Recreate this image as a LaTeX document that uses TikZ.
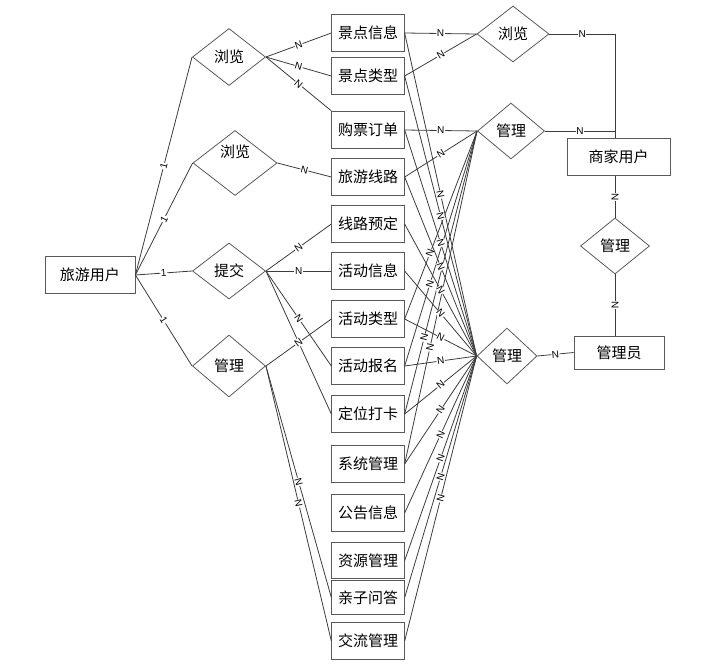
\documentclass[tikz,border=0pt]{standalone}
\usepackage{fontspec}
\newfontfamily\cjk{Noto Sans CJK SC}
\newfontfamily\latinsf{Liberation Sans}
\usepackage{tikz}
\usetikzlibrary{shapes.geometric}
\definecolor{erLine}{RGB}{60,60,60}
\definecolor{erEdge}{RGB}{90,90,90}

\begin{document}
\begin{tikzpicture}[x=0.75pt, y=-0.75pt, line width=0.6pt,
  ent/.style={draw=erEdge, rectangle, inner sep=0pt,
    minimum width=54.4pt, minimum height=28.1pt,
    font=\cjk\fontsize{11.25}{12}\selectfont},
  rel/.style={draw=erEdge, diamond, aspect=1, inner sep=0pt,
    font=\cjk\fontsize{11.25}{12}\selectfont},
  card/.style={font=\latinsf\fontsize{7.5}{7.5}\selectfont, sloped,
    fill=white, inner sep=0.4pt},
  link/.style={draw=erLine}]

\useasboundingbox (0,0) rectangle (725,665);

% Users
\node[ent, minimum width=67.5pt] (tourist) at (90,275) {旅游用户};
\node[ent, minimum width=77.3pt] (merchant) at (618.5,157) {商家用户};
\node[ent, minimum width=67.5pt, minimum height=24.8pt] (admin) at (619,352.5) {管理员};

% Entity column
\foreach \nm/\y/\h/\txt in {spotInfo/33/28.1pt/景点信息, spotType/76/28.1pt/景点类型,
    ticket/130/28.1pt/购票订单, route/177/28.1pt/旅游线路, routeBook/224/28.1pt/线路预定,
    actInfo/271/28.1pt/活动信息, actType/319/28.1pt/活动类型, actSign/366/28.1pt/活动报名,
    checkIn/414/28.1pt/定位打卡, sysMgr/464/28.1pt/系统管理, notice/513/28.1pt/公告信息,
    resMgr/560.5/26.5pt/资源管理, qa/597.5/25pt/亲子问答, talk/641/28.1pt/交流管理}
  \node[ent, minimum height=\h] (\nm) at (368,\y) {\txt};

% Relations
\node[rel, minimum width=54.8pt, minimum height=42.8pt] (browseA) at (229,57) {浏览};
\node[rel, minimum width=63pt, minimum height=48.8pt,
  label={[font=\cjk\fontsize{11.25}{12}\selectfont, yshift=8.25pt]center:浏览}] (browseB) at (235,163) {};
\node[rel, minimum width=54.8pt, minimum height=42pt] (submit) at (229,271) {提交};
\node[rel, minimum width=54.8pt, minimum height=46.5pt] (manageU) at (229,366) {管理};
\node[rel, minimum width=54pt, minimum height=42pt] (browseM) at (513,34) {浏览};
\node[rel, minimum width=50.3pt, minimum height=42pt] (manageM) at (511,131) {管理};
\node[rel, minimum width=51.8pt, minimum height=42pt] (manageMid) at (615,246) {管理};
\node[rel, minimum width=45pt, minimum height=42pt] (manageA) at (507,356) {管理};

% Tourist side
\foreach \r in {browseA,browseB,submit,manageU}
  \draw[link] (tourist.east) -- node[card]{1} (\r.west);

\draw[link] (browseA.east) -- node[card]{N} (spotInfo.west);
\draw[link] (browseA.east) -- node[card]{N} (spotType.west);
\draw[link] (browseA.east) -- node[card]{N} (ticket.north west);
\draw[link] (browseB.east) -- node[card]{N} (route.west);

\foreach \e in {routeBook,actInfo,actSign,checkIn}
  \draw[link] (submit.east) -- node[card]{N} (\e.west);
\foreach \e in {actType,qa,talk}
  \draw[link] (manageU.east) -- node[card]{N} (\e.west);

% Merchant side
\draw[link] (spotInfo.east) -- node[card]{N} (browseM.west);
\draw[link] (spotType.east) -- node[card]{N} (browseM.west);
\draw[link] (ticket.east) -- node[card]{N} (manageM.west);
\draw[link] (route.east) -- node[card]{N} (manageM.west);
\foreach \e/\p in {actType/0.35,actSign/0.35,checkIn/0.27,sysMgr/0.35}
  \draw[link] (\e.east) -- node[card,pos=\p]{N} (manageM.west);

\draw[link] (browseM.east) -| node[card,pos=0.25]{N} (manageMid.north |- merchant.north);
\draw[link] (manageM.east) -- node[card]{N} (manageM.east -| manageMid.north);
\draw[link] (manageMid.north |- merchant.south) -- node[card]{N} (manageMid.north);
\draw[link] (manageMid.south) -- node[card]{N} (manageMid.south |- admin.north);

% Admin side
\foreach \e in {spotInfo,spotType,ticket,route,routeBook,actInfo,actType,
    actSign,checkIn,sysMgr,notice,resMgr,qa,talk}
  \draw[link] (\e.east) -- node[card]{N} (manageA.west);
\draw[link] (manageA.east) -- node[card]{N} (admin.west);

\end{tikzpicture}
\end{document}
